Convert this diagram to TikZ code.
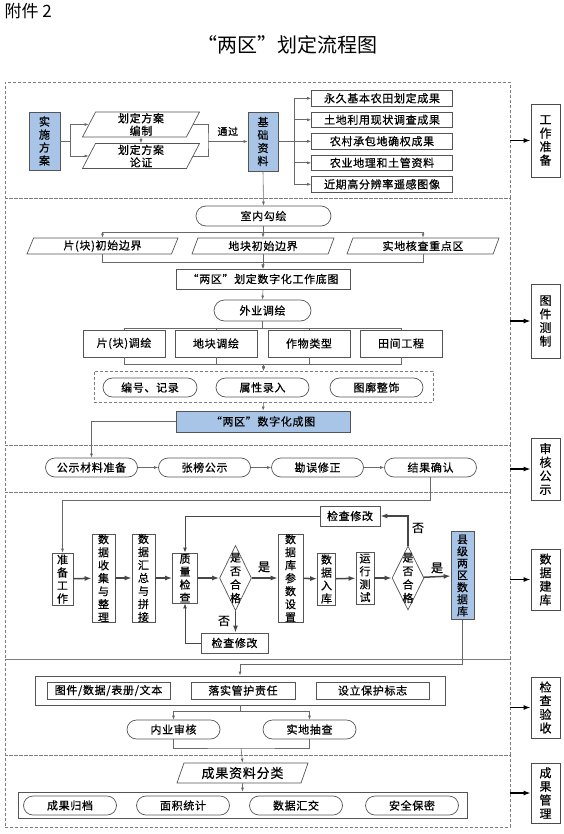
\documentclass[tikz,border=0pt]{standalone}
\usepackage{fontspec}
\newfontfamily\cjk{Noto Sans CJK SC}
\newfontfamily\cjkb{Noto Sans CJK SC}[FakeBold=0.6, LetterSpace=6]
\usetikzlibrary{arrows.meta, positioning, calc, shapes.geometric, shapes.misc}
\definecolor{bfill}{RGB}{168,196,230}
\definecolor{bline}{RGB}{85,85,85}
\definecolor{dline}{RGB}{125,125,125}
\definecolor{wline}{RGB}{105,105,105}
\definecolor{fline}{RGB}{70,70,70}

\begin{document}
\begin{tikzpicture}[
  x=1pt, y=-1pt,
  font=\cjkb\fontsize{11}{13}\selectfont,
  box/.style={draw=bline, line width=0.7pt, align=center, inner sep=0pt},
  bbox/.style={box, fill=bfill},
  pill/.style={box, rounded rectangle, minimum height=19},
  slant/.style={box, trapezium, trapezium left angle=60, trapezium right angle=120,
                trapezium stretches body},
  dia/.style={box, diamond},
  vt/.style={align=center, inner sep=0pt, font=\cjkb\fontsize{11}{13.5}\selectfont},
  stage/.style={box, draw=black!70, minimum width=29, font=\cjkb\fontsize{12}{13.6}\selectfont},
  sec/.style={draw=dline, dash pattern=on 3pt off 2pt, line width=0.7pt, minimum width=505, inner sep=0pt},
  wire/.style={draw=wline, line width=0.6pt},
  link/.style={wire, -{Latex[length=4pt, width=3pt]}},
  mid/.style={draw=fline, line width=1pt, -{Latex[length=5pt, width=4pt]}},
  flow/.style={draw=fline, line width=1.5pt, -{Latex[length=7pt, width=5pt]}},
  sideflow/.style={draw=black, line width=1.5pt, -{Latex[length=7pt, width=5pt]}},
  note/.style={font=\cjkb\fontsize{12}{12}\selectfont, inner sep=0pt},
]
\useasboundingbox (0,0) rectangle (563,834);

% titles
\node[anchor=west, font=\cjk\fontsize{17}{17}\selectfont] (att) at (1,11) {附件 2};
\node[font=\cjk\fontsize{20}{20}\selectfont] (ttl) at (287,45) {“两区”划定流程图};

% dashed stages
\node[sec, minimum height=116] (sec1) at (257.5,140) {};
\node[sec, minimum height=247] (sec2) at (257.5,321.5) {};
\node[sec, minimum height=47] (sec3) at (257.5,468.5) {};
\node[sec, minimum height=167] (sec4) at (257.5,575.5) {};
\node[sec, minimum height=96] (sec5) at (257.5,707) {};
\node[sec, minimum height=72] (sec6) at (257.5,791) {};

% stage 1: work preparation
\node[bbox, minimum width=31, minimum height=58] (ssfa) at (44.5,141) {实\\施\\方\\案};
\node[slant, minimum width=117, minimum height=25, font=\cjkb\fontsize{11}{12.5}\selectfont] (bz) at (141,124.5) {划定方案\\编制};
\node[slant, minimum width=117, minimum height=25, font=\cjkb\fontsize{11}{12.5}\selectfont] (lz) at (141,156) {划定方案\\论证};
\node[bbox, minimum width=30, minimum height=59] (jczl) at (263,141.5) {基\\础\\资\\料};
\foreach \t [count=\i] in {永久基本农田划定成果, 土地利用现状调查成果, 农村承包地确权成果,
                           农业地理和土管资料, 近期高分辨率遥感图像}
  \node[box, minimum width=141, minimum height=15.5] (d\i) at (382,{76.8+21.5*\i}) {\t};
\node[stage, minimum height=73] (gzzb) at (545.5,140.5) {工\\作\\准\\备};

\draw[link] (ssfa.east) -- ++(10,0) |- (bz.west);
\draw[link] (ssfa.east) -- ++(10,0) |- (lz.west);
\draw[link] (bz.south) -- (lz.north);
\coordinate (tg) at (208,141.5);
\draw[wire] (bz.east) -| (tg) |- (lz.east);
\draw[link] (tg) -- node[above=2pt, font=\cjkb\fontsize{10}{10}\selectfont] {通过} (jczl.west);
\foreach \i in {1,...,5}
  \draw[link] (jczl.east) -- ++(16,0) |- (d\i.west);
\draw[sideflow] (sec1.east |- gzzb.west) -- (gzzb.west);

% stage 2: mapping
\node[pill, minimum width=135, minimum height=20] (sngh) at (263.5,216) {室内勾绘};
\node[slant, minimum width=151, minimum height=16] (p1) at (102.5,246) {片(块)初始边界};
\node[slant, minimum width=142, minimum height=16] (p2) at (263,246) {地块初始边界};
\node[slant, minimum width=152, minimum height=16] (p3) at (423,246) {实地核查重点区};
\node[box, minimum width=174, minimum height=20] (dt) at (263,279) {“两区”划定数字化工作底图};
\node[pill, minimum width=97, minimum height=21] (wy) at (262.5,310.5) {外业调绘};
\foreach \t/\x [count=\i] in {{片(块)调绘}/124, {地块调绘}/216, {作物类型}/309, {田间工程}/401}
  \node[box, minimum width=82, minimum height=27] (q\i) at (\x,343.5) {\t};
\node[draw=dline, dash pattern=on 3pt off 2pt, line width=0.7pt, minimum width=339,
      minimum height=31] (zs) at (263.5,386.5) {};
\node[pill, minimum width=94] (r1) at (150,387.5) {编号、记录};
\node[pill, minimum width=93] (r2) at (262.5,387.5) {属性录入};
\node[pill, minimum width=93] (r3) at (376.5,387.5) {图廓整饰};
\node[bbox, minimum width=174, minimum height=21] (cht) at (263,421.5) {“两区”数字化成图};
\node[stage, minimum height=74] (tjcz) at (545.5,321) {图\\件\\测\\制};

\draw[link] (jczl.south) -- (sngh.north);
\foreach \p in {p1,p2,p3} {
  \draw[link] (sngh.south) -- ++(0,6) -| (\p.north);
  \draw[link] (\p.south) -- ++(0,8) -| (dt.north);
}
\draw[link] (dt.south) -- (wy.north);
\foreach \i in {1,...,4} {
  \draw[wire] (wy.south) -- ++(0,7) -| (q\i.north);
  \draw[link] (q\i.south) -- ++(0,7) -| (zs.north);
}
\draw[link] (zs.south) -- (cht.north);
\draw[sideflow] (sec2.east |- tjcz.west) -- (tjcz.west);

% stage 3: review and publicity
\foreach \t [count=\i] in {公示材料准备, 张榜公示, 勘误修正, 结果确认}
  \node[pill, minimum width=92] (g\i) at ({-21.5+113*\i},467.5) {\t};
\foreach \i/\j in {1/2, 2/3, 3/4}
  \draw[link] (g\i) -- (g\j);
\node[stage, minimum height=62] (shgs) at (545.5,469) {审\\核\\公\\示};
\draw[link] (cht.west) -| (g1.north);
\draw[sideflow] (sec3.east |- shgs.west) -- (shgs.west);

% stage 4: database
\node[box, minimum width=21, minimum height=52] (zb) at (62.5,579) {准\\备\\工\\作};
\node[box, minimum width=23, minimum height=88] (sj) at (103.5,578) {数\\据\\收\\集\\与\\整\\理};
\node[box, minimum width=23, minimum height=88] (hz) at (143.5,578) {数\\据\\汇\\总\\与\\拼\\接};
\node[box, minimum width=25, minimum height=50] (zl) at (185,578) {质\\量\\检\\查};
\node[dia, minimum width=32, minimum height=65,
      label={[vt]center:是\\否\\合\\格}] (dm1) at (235.5,578) {};
\node[box, minimum width=25, minimum height=88] (ck) at (290.5,578) {数\\据\\库\\参\\数\\设\\置};
\node[box, minimum width=18, minimum height=52] (rk) at (326.5,579) {数\\据\\入\\库};
\node[box, minimum width=18, minimum height=52] (cs) at (365,578) {运\\行\\测\\试};
\node[dia, minimum width=32, minimum height=64,
      label={[vt]center:是\\否\\合\\格}] (dm2) at (408,578) {};
\node[box, fill=bfill, cylinder, shape border rotate=90, aspect=0.6, minimum width=23,
      minimum height=88, label={[vt, font=\cjkb\fontsize{11}{12}\selectfont]center:县\\级\\两\\区\\数\\据\\库}] (db) at (462.5,575.5) {};
\node[box, minimum width=60, minimum height=20] (jx1) at (350,516) {检查修改};
\node[box, minimum width=67, minimum height=20] (jx2) at (234.5,643) {检查修改};
\node[note] (yes1) at (264,567) {是};
\node[note] (no1) at (224,621) {否};
\node[note] (yes2) at (437,568) {是};
\node[note] (no2) at (418,528) {否};
\node[stage, minimum height=61] (sjjk) at (545.5,579.5) {数\\据\\建\\库};

\draw[link] (g4.south) -- ++(0,23) -| (zb.north);
\draw[flow] (zb) -- (sj);
\draw[flow] (sj) -- (hz);
\draw[flow] (hz) -- (zl);
\draw[flow] (zl) -- (dm1);
\draw[flow] (dm1) -- (ck);
\draw[flow] (ck) -- (rk);
\draw[flow] (rk) -- (cs);
\draw[flow] (cs) -- (dm2);
\draw[flow] (dm2) -- (db);
\draw[flow] (dm2.north) |- (jx1.east);
\draw[mid] (jx1.west) -| (zl.north);
\draw[flow] (dm1.south) -- (dm1.south |- jx2.north);
\draw[mid] (jx2.west) -| (zl.south);
\draw[sideflow] (sec4.east |- sjjk.west) -- (sjjk.west);

% stage 5: inspection and acceptance
\node[box, minimum width=410, minimum height=29] (jy) at (240,690.5) {};
\node[box, minimum width=123, minimum height=17] (t1) at (108.5,690.5) {图件/数据/表册/文本};
\node[box, minimum width=104, minimum height=17] (t2) at (243,690.5) {落实管护责任};
\node[box, minimum width=113, minimum height=17] (t3) at (372.5,690.5) {设立保护标志};
\node[pill, minimum width=93] (n1) at (173.5,729.5) {内业审核};
\node[pill, minimum width=93] (n2) at (309.5,729.5) {实地抽查};
\node[stage, minimum height=61] (jysh) at (545.5,707.5) {检\\查\\验\\收};

\draw[link] (db.south) -- ++(0,45) -| (jy.north);
\foreach \n in {n1,n2}
  \draw[link] (jy.south) -- ++(0,6) -| (\n.north);
\coordinate (nj) at (241,748);
\draw[wire] (n1.south) |- (nj) -| (n2.south);
\draw[sideflow] (sec5.east |- jysh.west) -- (jysh.west);

% stage 6: results management
\node[slant, minimum width=131, minimum height=20, font=\cjkb\fontsize{13}{13}\selectfont] (cg) at (242.5,773) {成果资料分类};
\node[box, minimum width=449, minimum height=26] (gl) at (242.5,805) {};
\foreach \t/\x [count=\i] in {成果归档/70, 面积统计/183, 数据汇交/296, 安全保密/412}
  \node[pill, minimum width=93] (m\i) at (\x,805.5) {\t};
\node[stage, minimum height=60] (cggl) at (545.5,793) {成\\果\\管\\理};

\draw[link] (nj) -- (cg.north);
\draw[link] (cg.south) -- (gl.north);
\draw[sideflow] (sec6.east |- cggl.west) -- (cggl.west);
\end{tikzpicture}
\end{document}
